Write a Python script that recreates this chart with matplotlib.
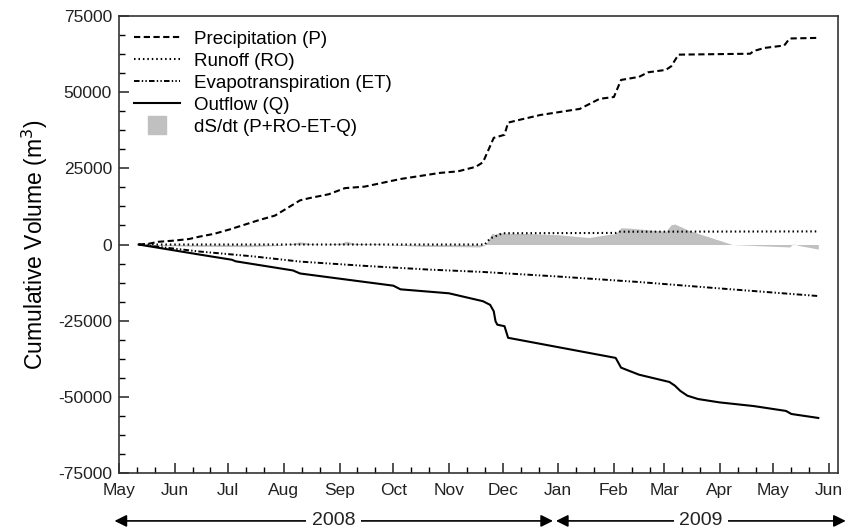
import matplotlib
matplotlib.use("Agg")
import matplotlib.pyplot as plt
import matplotlib.dates as mdates
from matplotlib.lines import Line2D
from matplotlib.patches import FancyArrowPatch
import pandas as pd

plt.rcParams['font.family'] = ['Liberation Sans', 'DejaVu Sans']
plt.rcParams['axes.unicode_minus'] = False
plt.rcParams['lines.scale_dashes'] = False

# cumulative water balance terms (m3)
p_dates = ['2008-05-12', '2008-05-18', '2008-05-23', '2008-06-01', '2008-06-09', '2008-06-15',
           '2008-06-23', '2008-07-02', '2008-07-10', '2008-07-18', '2008-07-27', '2008-08-03',
           '2008-08-10', '2008-08-15', '2008-08-26', '2008-09-04', '2008-09-15', '2008-09-23',
           '2008-10-05', '2008-10-16', '2008-10-27', '2008-11-06', '2008-11-16', '2008-11-20',
           '2008-11-26', '2008-12-02', '2008-12-04', '2008-12-11', '2008-12-22', '2009-01-02',
           '2009-01-13', '2009-01-24', '2009-02-01', '2009-02-05', '2009-02-15', '2009-02-20',
           '2009-03-02', '2009-03-05', '2009-03-09', '2009-04-18', '2009-04-20', '2009-04-26',
           '2009-05-07', '2009-05-10', '2009-05-26']
p_vals = [0, 300, 900, 1300, 1800, 2600,
          3500, 5000, 6500, 8000, 9500, 12000,
          14500, 15200, 16500, 18500, 19000, 20000,
          21500, 22500, 23500, 24000, 25500, 27000,
          35000, 36000, 40000, 41000, 42500, 43500,
          44500, 47800, 48400, 54000, 55000, 56500,
          57300, 58500, 62300, 62600, 63500, 64500,
          65300, 67600, 67800]

ro_dates = ['2008-05-12', '2008-11-21', '2008-11-24', '2008-12-01', '2009-02-02', '2009-02-04',
            '2009-05-26']
ro_vals = [0, 0, 2000, 3700, 3800, 4200, 4300]

et_dates = ['2008-05-12', '2008-06-15', '2008-07-15', '2008-08-10', '2008-09-15', '2008-10-20',
            '2008-11-20', '2009-01-01', '2009-02-15', '2009-04-01', '2009-05-26']
et_vals = [0, -2300, -3900, -5600, -7000, -8200, -9000, -10500, -12300, -14400, -16900]

q_dates = ['2008-05-12', '2008-06-15', '2008-07-03', '2008-07-05', '2008-08-06', '2008-08-10',
           '2008-09-01', '2008-10-01', '2008-10-05', '2008-11-01', '2008-11-20', '2008-11-24',
           '2008-11-26', '2008-11-27', '2008-11-28', '2008-12-02', '2008-12-04', '2009-02-02',
           '2009-02-05', '2009-02-15', '2009-03-04', '2009-03-07', '2009-03-10', '2009-03-14',
           '2009-03-20', '2009-04-01', '2009-04-20', '2009-05-08', '2009-05-11', '2009-05-26']
q_vals = [0, -3300, -5000, -5500, -8500, -9500,
          -11200, -13500, -14700, -16000, -18600, -19800,
          -21900, -25200, -26300, -26800, -30600, -37200,
          -40400, -42700, -45100, -46300, -48000, -49600,
          -50700, -51800, -53000, -54600, -55600, -56900]

ds_dates = ['2008-05-12', '2008-05-24', '2008-06-15', '2008-07-13', '2008-07-30', '2008-08-05',
            '2008-08-10', '2008-08-16', '2008-08-22', '2008-09-02', '2008-09-05', '2008-09-09',
            '2008-09-19', '2008-09-22', '2008-09-25', '2008-10-17', '2008-11-08', '2008-11-18',
            '2008-11-21', '2008-11-23', '2008-11-25', '2008-11-27', '2008-11-29', '2008-12-02',
            '2008-12-16', '2009-01-01', '2009-01-18', '2009-01-29', '2009-02-02', '2009-02-05',
            '2009-02-09', '2009-02-17', '2009-02-26', '2009-03-02', '2009-03-05', '2009-03-07',
            '2009-03-15', '2009-04-08', '2009-04-23', '2009-05-10', '2009-05-12', '2009-05-15',
            '2009-05-26']
ds_vals = [0, -300, -600, -700, -300, 300,
           900, 300, 0, 500, 1100, 400,
           200, 400, 0, -600, -700, -800,
           -200, 1500, 3700, 3300, 4000, 3700,
           3600, 3200, 2300, 3300, 3600, 5500,
           5400, 5000, 4500, 4400, 6500, 6700,
           4600, 0, -400, -800, 200, -300,
           -1500]

fig = plt.figure(figsize=(8.56, 5.31), dpi=100)
ax = fig.add_axes([0.139, 0.109, 0.840, 0.861])

ds_t = pd.to_datetime(ds_dates)
ax.fill_between(ds_t, ds_vals, 0, color='#c0c0c0', lw=0, zorder=1)

ax.plot(pd.to_datetime(p_dates), p_vals, color='black', lw=1.5, dashes=(4.5, 2.5), zorder=3)
ax.plot(pd.to_datetime(ro_dates), ro_vals, color='black', lw=1.5, dashes=(1.1, 2.1), zorder=3)
ax.plot(pd.to_datetime(et_dates), et_vals, color='black', lw=1.4,
        dashes=(4.0, 1.6, 1.0, 1.6, 1.0, 1.6), zorder=3)
ax.plot(pd.to_datetime(q_dates), q_vals, color='black', lw=1.5, zorder=3)

ax.set_xlim(pd.Timestamp('2008-05-01'), pd.Timestamp('2009-06-06'))
ax.set_ylim(-75000, 75000)
ax.set_yticks(range(-75000, 75001, 25000))
ax.set_yticks(range(-75000, 75001, 6250), minor=True)
ax.xaxis.set_major_locator(mdates.MonthLocator())
ax.xaxis.set_major_formatter(mdates.DateFormatter('%b'))
ax.xaxis.set_minor_locator(mdates.DayLocator(bymonthday=[11, 21]))

ax.tick_params(which='major', direction='in', length=7, width=1.1, labelsize=12.5,
               colors='#222222', pad=5)
ax.tick_params(axis='x', which='major', pad=7)
ax.tick_params(which='minor', direction='in', length=4, width=1.0)
ax.tick_params(top=False, right=False, which='both')
for s in ax.spines.values():
    s.set_linewidth(1.2)
    s.set_color('#333333')

ax.set_ylabel('Cumulative Volume (m$^3$)', fontsize=16.5, labelpad=6)

handles = [
    Line2D([], [], color='black', lw=1.5, dashes=(4.5, 2.5)),
    Line2D([], [], color='black', lw=1.5, dashes=(1.1, 2.1)),
    Line2D([], [], color='black', lw=1.4, dashes=(4.0, 1.6, 1.0, 1.6, 1.0, 1.6)),
    Line2D([], [], color='black', lw=1.5),
    Line2D([], [], color='#c0c0c0', marker='s', markersize=13.5, linestyle='none'),
]
labels = ['Precipitation (P)', 'Runoff (RO)', 'Evapotranspiration (ET)', 'Outflow (Q)',
          'dS/dt (P+RO-ET-Q)']
ax.legend(handles, labels, loc='upper left', frameon=False, fontsize=13.5,
          handlelength=2.45, handletextpad=0.75, labelspacing=0.26,
          bbox_to_anchor=(0.01, 0.984), borderaxespad=0)

# year spans under the month axis
yy = 0.019
for x0, x1, year in [(0.1338, 0.646, '2008'), (0.6495, 0.988, '2009')]:
    fig.add_artist(FancyArrowPatch((x0, yy), (x1, yy), transform=fig.transFigure,
                                   arrowstyle='<|-|>', mutation_scale=18, lw=1.2,
                                   color='black', shrinkA=0, shrinkB=0))
    fig.text((x0 + x1) / 2, yy, year, ha='center', va='center', fontsize=14,
             color='#222222', bbox=dict(facecolor='white', edgecolor='none', pad=4))

fig.savefig('out.png', dpi=100)
